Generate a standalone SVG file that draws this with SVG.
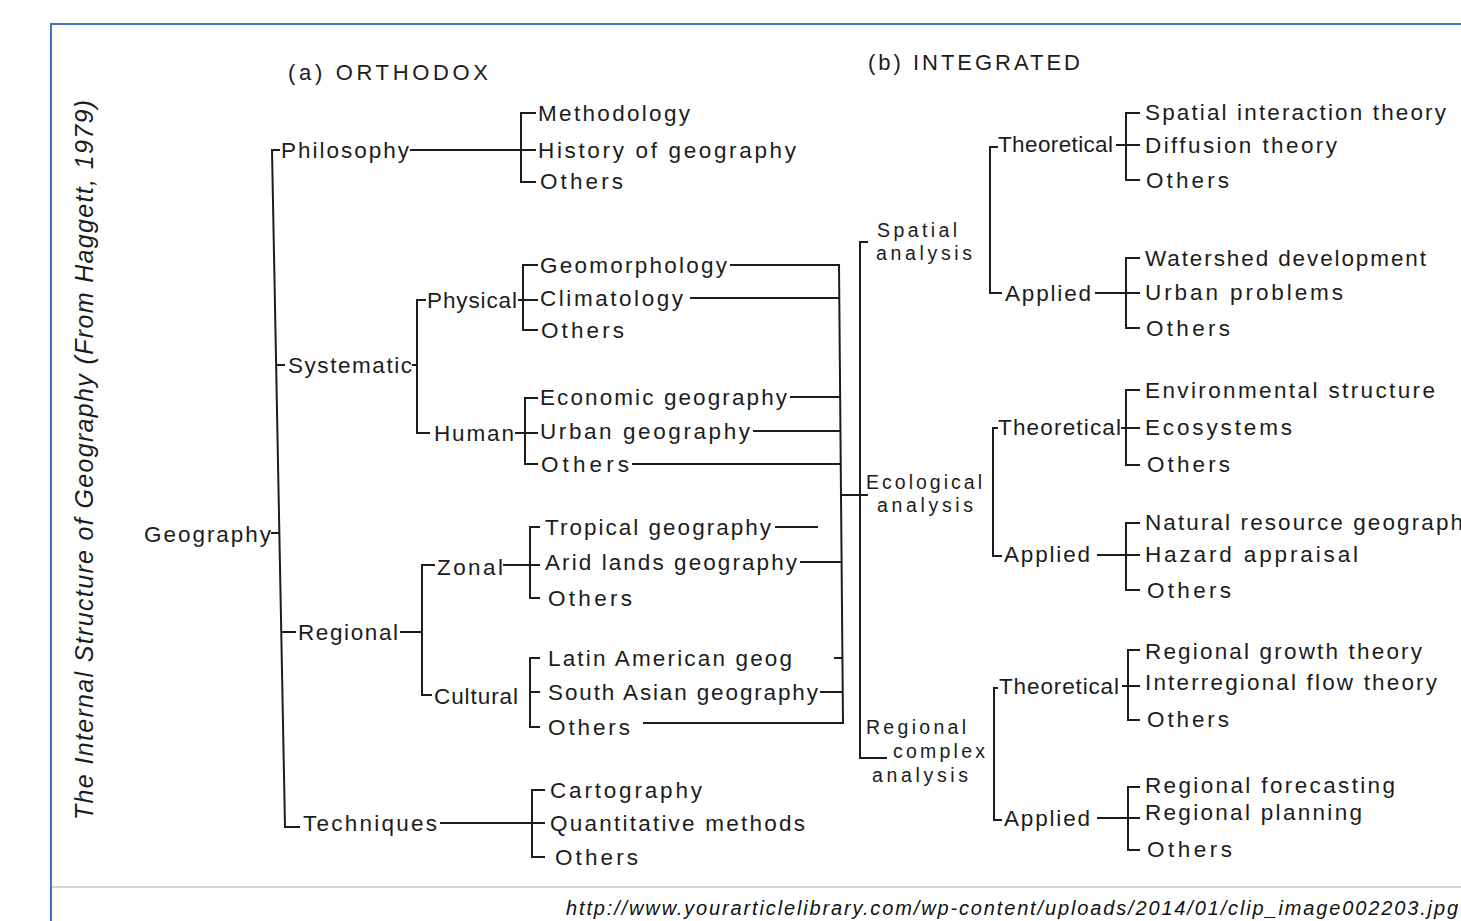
<svg xmlns="http://www.w3.org/2000/svg" width="1461" height="921" viewBox="0 0 1461 921">
<style>
.t{font-family:"Liberation Sans",Arial,sans-serif;font-size:22.5px;fill:#1c1c1c}
.m{font-family:"Liberation Sans",Arial,sans-serif;font-size:19.5px;fill:#1c1c1c}
.h{font-family:"Liberation Sans",Arial,sans-serif;font-size:22px;fill:#1c1c1c}
.ln{fill:none;stroke:#1c1c1c;stroke-width:2;stroke-linejoin:miter}
.frame{fill:none;stroke:#3a76c2;stroke-width:2}
</style>
<rect x="0" y="0" width="1461" height="921" fill="#ffffff"/>
<g id="frame">
<line class="frame" x1="50" y1="24" x2="1461" y2="24"/>
<line class="frame" x1="51" y1="23" x2="51" y2="921"/>
<line x1="52" y1="887" x2="1461" y2="887" stroke="#c8c8c8" stroke-width="1.5"/>
</g>
<g id="title">
<text transform="translate(93,820) rotate(-90)" font-family="Liberation Sans, Arial, sans-serif" font-style="italic" font-size="25" fill="#1c1c1c" textLength="720" lengthAdjust="spacing">The Internal Structure of Geography (From Haggett, 1979)</text>
</g>
<g id="headers">
<text class="h" x="288" y="80" textLength="200" lengthAdjust="spacing">(a) ORTHODOX</text>
<text class="h" x="868" y="70" textLength="212" lengthAdjust="spacing">(b) INTEGRATED</text>
</g>
<g id="connectors">
<path class="ln" d="M280,150 H272 L285,827 H300"/>
<path class="ln" d="M276,365 H285"/>
<path class="ln" d="M271,533 H279"/>
<path class="ln" d="M281,632 H296"/>
<path class="ln" d="M410,150 H536"/>
<path class="ln" d="M536,113 H521 V182 H536"/>
<path class="ln" d="M412,365 H417"/>
<path class="ln" d="M426,300 H417 V433 H430"/>
<path class="ln" d="M518,300 H538"/>
<path class="ln" d="M538,265 H523 V330 H538"/>
<path class="ln" d="M515,433 H538"/>
<path class="ln" d="M538,398 H525 V464 H538"/>
<path class="ln" d="M730,265 H839 L843,723 H643"/>
<path class="ln" d="M690,298 H839"/>
<path class="ln" d="M790,397 H840"/>
<path class="ln" d="M753,431 H840"/>
<path class="ln" d="M632,464 H840"/>
<path class="ln" d="M775,527 H818"/>
<path class="ln" d="M800,562 H842"/>
<path class="ln" d="M834,658 H842"/>
<path class="ln" d="M820,692 H843"/>
<path class="ln" d="M840,495 H868"/>
<path class="ln" d="M868,242 H860 V758 H887"/>
<path class="ln" d="M400,632 H422"/>
<path class="ln" d="M435,565 H422 V695 H432"/>
<path class="ln" d="M503,565 H540"/>
<path class="ln" d="M540,527 H530 V598 H540"/>
<path class="ln" d="M540,658 H530 V727 H540"/>
<path class="ln" d="M530,692 H540"/>
<path class="ln" d="M440,823 H545"/>
<path class="ln" d="M545,790 H532 V857 H545"/>
<path class="ln" d="M998,147 H990 V293 H1002"/>
<path class="ln" d="M1116,145 H1140"/>
<path class="ln" d="M1140,113 H1126 V180 H1140"/>
<path class="ln" d="M1095,293 H1140"/>
<path class="ln" d="M1140,258 H1126 V328 H1140"/>
<path class="ln" d="M998,428 H993 V556 H1002"/>
<path class="ln" d="M1121,428 H1140"/>
<path class="ln" d="M1140,390 H1126 V465 H1140"/>
<path class="ln" d="M1097,555 H1140"/>
<path class="ln" d="M1140,523 H1126 V590 H1140"/>
<path class="ln" d="M998,688 H994 V820 H1002"/>
<path class="ln" d="M1122,686 H1140"/>
<path class="ln" d="M1140,650 H1128 V720 H1140"/>
<path class="ln" d="M1097,818 H1140"/>
<path class="ln" d="M1140,787 H1128 V850 H1140"/>
</g>
<g id="n-geography"><text class="t" x="144" y="542" textLength="127" lengthAdjust="spacing">Geography</text></g>
<g id="n-philosophy"><text class="t" x="281" y="158" textLength="128" lengthAdjust="spacing">Philosophy</text></g>
<g id="n-systematic"><text class="t" x="288" y="373" textLength="124" lengthAdjust="spacing">Systematic</text></g>
<g id="n-regional"><text class="t" x="298" y="640" textLength="100" lengthAdjust="spacing">Regional</text></g>
<g id="n-techniques"><text class="t" x="303" y="831" textLength="134" lengthAdjust="spacing">Techniques</text></g>
<g id="n-physical"><text class="t" x="427" y="308" textLength="90" lengthAdjust="spacing">Physical</text></g>
<g id="n-human"><text class="t" x="434" y="441" textLength="80" lengthAdjust="spacing">Human</text></g>
<g id="n-zonal"><text class="t" x="437" y="575" textLength="66" lengthAdjust="spacing">Zonal</text></g>
<g id="n-cultural"><text class="t" x="434" y="704" textLength="84" lengthAdjust="spacing">Cultural</text></g>
<g id="n-methodology"><text class="t" x="538" y="121" textLength="152" lengthAdjust="spacing">Methodology</text></g>
<g id="n-history"><text class="t" x="538" y="158" textLength="258" lengthAdjust="spacing">History of geography</text></g>
<g id="n-others-phil"><text class="t" x="540" y="189" textLength="83" lengthAdjust="spacing">Others</text></g>
<g id="n-geomorphology"><text class="t" x="540" y="273" textLength="187" lengthAdjust="spacing">Geomorphology</text></g>
<g id="n-climatology"><text class="t" x="540" y="306" textLength="143" lengthAdjust="spacing">Climatology</text></g>
<g id="n-others-phys"><text class="t" x="541" y="338" textLength="83" lengthAdjust="spacing">Others</text></g>
<g id="n-economic"><text class="t" x="540" y="405" textLength="247" lengthAdjust="spacing">Economic geography</text></g>
<g id="n-urban"><text class="t" x="540" y="439" textLength="210" lengthAdjust="spacing">Urban geography</text></g>
<g id="n-others-hum"><text class="t" x="541" y="472" textLength="88" lengthAdjust="spacing">Others</text></g>
<g id="n-tropical"><text class="t" x="545" y="535" textLength="226" lengthAdjust="spacing">Tropical geography</text></g>
<g id="n-arid"><text class="t" x="545" y="570" textLength="252" lengthAdjust="spacing">Arid lands geography</text></g>
<g id="n-others-zonal"><text class="t" x="548" y="606" textLength="84" lengthAdjust="spacing">Others</text></g>
<g id="n-latin"><text class="t" x="548" y="666" textLength="244" lengthAdjust="spacing">Latin American geog</text></g>
<g id="n-southasian"><text class="t" x="548" y="700" textLength="270" lengthAdjust="spacing">South Asian geography</text></g>
<g id="n-others-cult"><text class="t" x="548" y="735" textLength="82" lengthAdjust="spacing">Others</text></g>
<g id="n-cartography"><text class="t" x="550" y="798" textLength="152" lengthAdjust="spacing">Cartography</text></g>
<g id="n-quantitative"><text class="t" x="550" y="831" textLength="255" lengthAdjust="spacing">Quantitative methods</text></g>
<g id="n-others-tech"><text class="t" x="555" y="865" textLength="83" lengthAdjust="spacing">Others</text></g>
<g id="n-spatial"><text class="m" x="877" y="237" textLength="80" lengthAdjust="spacing">Spatial</text><text class="m" x="876" y="260" textLength="96" lengthAdjust="spacing">analysis</text></g>
<g id="n-ecological"><text class="m" x="866" y="489" textLength="116" lengthAdjust="spacing">Ecological</text><text class="m" x="877" y="512" textLength="96" lengthAdjust="spacing">analysis</text></g>
<g id="n-regcomplex"><text class="m" x="866" y="734" textLength="100" lengthAdjust="spacing">Regional</text><text class="m" x="893" y="758" textLength="92" lengthAdjust="spacing">complex</text><text class="m" x="872" y="782" textLength="96" lengthAdjust="spacing">analysis</text></g>
<g id="n-sp-theo"><text class="t" x="998" y="152" textLength="115" lengthAdjust="spacing">Theoretical</text></g>
<g id="n-sp-app"><text class="t" x="1005" y="301" textLength="86" lengthAdjust="spacing">Applied</text></g>
<g id="n-sit"><text class="t" x="1145" y="120" textLength="301" lengthAdjust="spacing">Spatial interaction theory</text></g>
<g id="n-diffusion"><text class="t" x="1145" y="153" textLength="192" lengthAdjust="spacing">Diffusion theory</text></g>
<g id="n-others-sp1"><text class="t" x="1146" y="188" textLength="83" lengthAdjust="spacing">Others</text></g>
<g id="n-watershed"><text class="t" x="1145" y="266" textLength="281" lengthAdjust="spacing">Watershed development</text></g>
<g id="n-urbanprob"><text class="t" x="1145" y="300" textLength="198" lengthAdjust="spacing">Urban problems</text></g>
<g id="n-others-sp2"><text class="t" x="1146" y="336" textLength="84" lengthAdjust="spacing">Others</text></g>
<g id="n-ec-theo"><text class="t" x="998" y="435" textLength="123" lengthAdjust="spacing">Theoretical</text></g>
<g id="n-ec-app"><text class="t" x="1004" y="562" textLength="86" lengthAdjust="spacing">Applied</text></g>
<g id="n-envstruct"><text class="t" x="1145" y="398" textLength="290" lengthAdjust="spacing">Environmental structure</text></g>
<g id="n-ecosystems"><text class="t" x="1145" y="435" textLength="147" lengthAdjust="spacing">Ecosystems</text></g>
<g id="n-others-ec1"><text class="t" x="1147" y="472" textLength="83" lengthAdjust="spacing">Others</text></g>
<g id="n-natres"><text class="t" x="1145" y="530" textLength="318" lengthAdjust="spacing">Natural resource geograph</text></g>
<g id="n-hazard"><text class="t" x="1145" y="562" textLength="213" lengthAdjust="spacing">Hazard appraisal</text></g>
<g id="n-others-ec2"><text class="t" x="1147" y="598" textLength="84" lengthAdjust="spacing">Others</text></g>
<g id="n-rc-theo"><text class="t" x="999" y="694" textLength="120" lengthAdjust="spacing">Theoretical</text></g>
<g id="n-rc-app"><text class="t" x="1004" y="826" textLength="86" lengthAdjust="spacing">Applied</text></g>
<g id="n-reggrowth"><text class="t" x="1145" y="659" textLength="277" lengthAdjust="spacing">Regional growth theory</text></g>
<g id="n-interreg"><text class="t" x="1145" y="690" textLength="292" lengthAdjust="spacing">Interregional flow theory</text></g>
<g id="n-others-rc1"><text class="t" x="1147" y="727" textLength="82" lengthAdjust="spacing">Others</text></g>
<g id="n-regforecast"><text class="t" x="1145" y="793" textLength="250" lengthAdjust="spacing">Regional forecasting</text></g>
<g id="n-regplanning"><text class="t" x="1145" y="820" textLength="217" lengthAdjust="spacing">Regional planning</text></g>
<g id="n-others-rc2"><text class="t" x="1147" y="857" textLength="85" lengthAdjust="spacing">Others</text></g>
<g id="source"><text x="566" y="915" font-family="Liberation Sans, Arial, sans-serif" font-style="italic" font-size="20" fill="#111" textLength="892" lengthAdjust="spacing">http://www.yourarticlelibrary.com/wp-content/uploads/2014/01/clip_image002203.jpg</text></g>
</svg>
